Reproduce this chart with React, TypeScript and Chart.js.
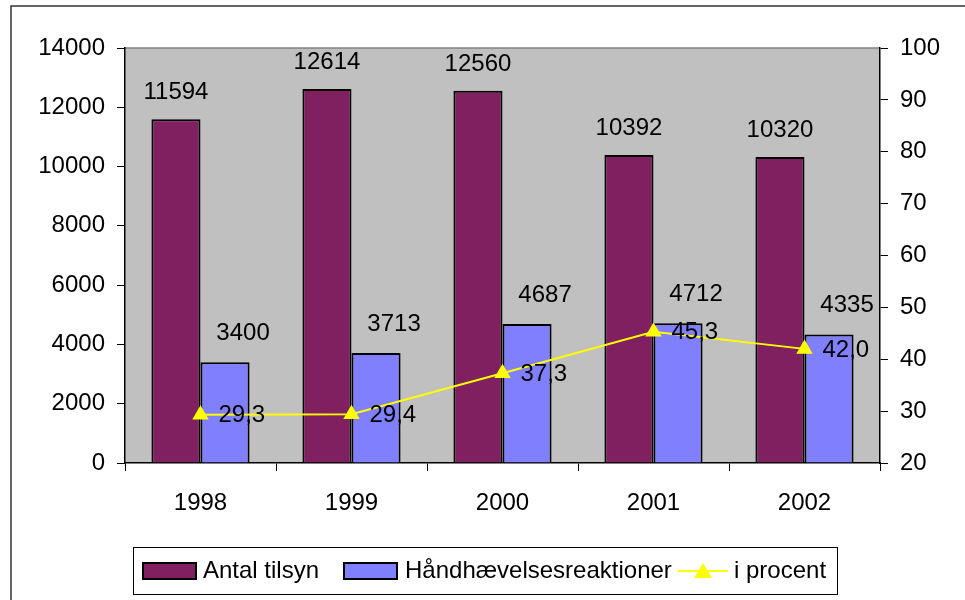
import React, { useEffect, useRef } from "react";
import { Chart, registerables } from "chart.js";

Chart.register(...registerables);

const years = ["1998", "1999", "2000", "2001", "2002"];
const antalTilsyn = [11594, 12614, 12560, 10392, 10320];
const haandhaevelse = [3400, 3713, 4687, 4712, 4335];
const iProcent = [29.3, 29.4, 37.3, 45.3, 42.0];
const seriesNames = ["Antal tilsyn", "Håndhævelsesreaktioner", "i procent"];

const PURPLE = "#802060";
const BLUE = "#8080FF";
const YELLOW = "#FFFF00";
const FONT = "24px 'Liberation Sans', Arial, sans-serif";

const decorPlugin = {
  id: "decor",
  beforeDraw(chart: any) {
    const { ctx, chartArea: a } = chart;
    ctx.save();
    ctx.fillStyle = "#FFFFFF";
    ctx.fillRect(0, 0, chart.width, chart.height);
    // outer border
    ctx.strokeStyle = "#333333";
    ctx.lineWidth = 1.5;
    ctx.strokeRect(11, 6, chart.width + 10, chart.height + 10);
    // plot area
    ctx.fillStyle = "#C0C0C0";
    ctx.fillRect(a.left, a.top, a.right - a.left, a.bottom - a.top);
    ctx.strokeStyle = "#808080";
    ctx.lineWidth = 1.5;
    ctx.beginPath();
    ctx.moveTo(a.left, a.top);
    ctx.lineTo(a.right, a.top);
    ctx.stroke();
    ctx.restore();
  },
  afterDatasetsDraw(chart: any) {
    const { ctx } = chart;
    ctx.save();
    ctx.font = FONT;
    ctx.fillStyle = "#000000";
    const m0 = chart.getDatasetMeta(0);
    const m1 = chart.getDatasetMeta(1);
    const m2 = chart.getDatasetMeta(2);
    ctx.textAlign = "center";
    ctx.textBaseline = "alphabetic";
    m0.data.forEach((el: any, i: number) => {
      ctx.fillText(String(antalTilsyn[i]), el.x, el.y - 20);
    });
    m1.data.forEach((el: any, i: number) => {
      ctx.fillText(String(haandhaevelse[i]), el.x + 18, el.y - 22);
    });
    ctx.textAlign = "left";
    ctx.textBaseline = "middle";
    m2.data.forEach((el: any, i: number) => {
      ctx.fillText(iProcent[i].toFixed(1).replace(".", ","), el.x + 18, el.y + 1);
    });
    ctx.restore();
  },
  afterDraw(chart: any) {
    const { ctx } = chart;
    ctx.save();
    // legend box
    ctx.strokeStyle = "#000000";
    ctx.lineWidth = 1;
    ctx.strokeRect(133.5, 547.5, 704, 47);
    ctx.font = FONT;
    ctx.textBaseline = "middle";
    ctx.textAlign = "left";
    const cy = 571;
    // swatch 1
    ctx.fillStyle = PURPLE;
    ctx.fillRect(143, 563, 53, 16);
    ctx.strokeStyle = "#000";
    ctx.lineWidth = 2;
    ctx.strokeRect(143, 563, 53, 16);
    ctx.fillStyle = "#000";
    ctx.fillText(seriesNames[0], 203, cy);
    // swatch 2
    ctx.fillStyle = BLUE;
    ctx.fillRect(344, 563, 53, 16);
    ctx.strokeRect(344, 563, 53, 16);
    ctx.fillStyle = "#000";
    ctx.fillText(seriesNames[1], 405, cy);
    // line marker
    ctx.strokeStyle = YELLOW;
    ctx.lineWidth = 2;
    ctx.beginPath();
    ctx.moveTo(678, cy);
    ctx.lineTo(728, cy);
    ctx.stroke();
    ctx.fillStyle = YELLOW;
    ctx.beginPath();
    ctx.moveTo(703, cy - 8);
    ctx.lineTo(712, cy + 7);
    ctx.lineTo(694, cy + 7);
    ctx.closePath();
    ctx.fill();
    ctx.fillStyle = "#000";
    ctx.fillText(seriesNames[2], 734, cy);
    ctx.restore();
  },
};

export default function App() {
  const ref = useRef<HTMLCanvasElement>(null);
  useEffect(() => {
    if (!ref.current) return;
    const tickFont = { family: "'Liberation Sans', Arial, sans-serif", size: 24 };
    const plain = (v: any) => String(v);
    const chart = new Chart(ref.current, {
      type: "bar",
      data: {
        labels: years,
        datasets: [
          {
            type: "bar",
            label: seriesNames[0],
            data: antalTilsyn,
            backgroundColor: PURPLE,
            borderColor: "#000000",
            borderWidth: 2,
            yAxisID: "y",
            order: 2,
          },
          {
            type: "bar",
            label: seriesNames[1],
            data: haandhaevelse,
            backgroundColor: BLUE,
            borderColor: "#000000",
            borderWidth: 2,
            yAxisID: "y",
            order: 2,
          },
          {
            type: "line",
            label: seriesNames[2],
            data: iProcent,
            borderColor: YELLOW,
            backgroundColor: YELLOW,
            borderWidth: 2,
            pointStyle: "triangle",
            pointRadius: 9.5,
            pointBorderWidth: 0,
            yAxisID: "y1",
            order: 1,
          },
        ] as any,
      },
      options: {
        animation: false,
        responsive: false,
        maintainAspectRatio: false,
        layout: { padding: { top: 48, left: 0, right: 0, bottom: 0 } },
        datasets: { bar: { categoryPercentage: 0.65, barPercentage: 1.0 } },
        plugins: { legend: { display: false }, tooltip: { enabled: false } },
        scales: {
          x: {
            offset: true,
            grid: { offset: true, drawOnChartArea: false, drawTicks: true, tickLength: 8, color: "#000000", lineWidth: 1 },
            border: { color: "#000000", width: 1.5 },
            ticks: { font: tickFont, color: "#000000", padding: 18, maxRotation: 0 },
            afterFit: (s: any) => { s.height = 137; },
          },
          y: {
            position: "left",
            min: 0,
            max: 14000,
            ticks: { stepSize: 2000, font: tickFont, color: "#000000", padding: 12, callback: plain },
            grid: { drawOnChartArea: false, drawTicks: true, tickLength: 8, color: "#000000", lineWidth: 1 },
            border: { color: "#000000", width: 1.5 },
            afterFit: (s: any) => { s.width = 125; },
          },
          y1: {
            position: "right",
            min: 20,
            max: 100,
            ticks: { stepSize: 10, font: tickFont, color: "#000000", padding: 12, callback: plain },
            grid: { drawOnChartArea: false, drawTicks: true, tickLength: 8, color: "#000000", lineWidth: 1 },
            border: { color: "#000000", width: 1.5 },
            afterFit: (s: any) => { s.width = 85; },
          },
        },
      } as any,
      plugins: [decorPlugin],
    });
    return () => chart.destroy();
  }, []);
  return (
    <div style={{ position: "fixed", left: 0, top: 0, width: 965, height: 600 }}>
      <canvas ref={ref} width={965} height={600} style={{ width: 965, height: 600, display: "block" }} />
    </div>
  );
}
